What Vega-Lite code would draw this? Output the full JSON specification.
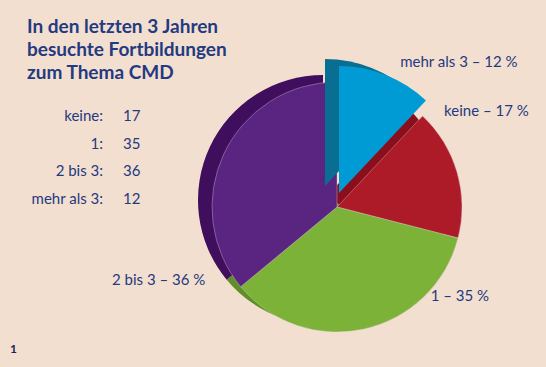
{
  "$schema": "https://vega.github.io/schema/vega-lite/v6.json",
  "width": 674,
  "height": 414,
  "autosize": {"type": "none"},
  "padding": 0,
  "background": "#f3dfd0",
  "config": {"view": {"stroke": null}, "font": "Lato"},
  "title": {
    "text": ["In den letzten 3 Jahren", "besuchte Fortbildungen", "zum Thema CMD"],
    "anchor": "start",
    "frame": "group",
    "orient": "top",
    "baseline": "top",
    "offset": 0,
    "dx": 27,
    "dy": 83,
    "fontSize": 19,
    "fontWeight": "bold",
    "font": "Lato",
    "color": "#233a80",
    "lineHeight": 23
  },
  "data": {
    "values": [
      {"ord": 1, "kategorie": "mehr als 3", "anzahl": 12, "tabelle": "mehr als 3:", "beschriftung": "mehr als 3 – 12 %"},
      {"ord": 2, "kategorie": "keine", "anzahl": 17, "tabelle": "keine:", "beschriftung": "keine – 17 %"},
      {"ord": 3, "kategorie": "1", "anzahl": 35, "tabelle": "1:", "beschriftung": "1 – 35 %"},
      {"ord": 4, "kategorie": "2 bis 3", "anzahl": 36, "tabelle": "2 bis 3:", "beschriftung": "2 bis 3 – 36 %"}
    ]
  },
  "layer": [
    {
      "mark": {"type": "arc", "radius": 125, "xOffset": -14, "yOffset": -7},
      "encoding": {
        "theta": {"field": "anzahl", "type": "quantitative", "stack": true, "scale": {"domain": [0, 100]}},
        "order": {"field": "ord", "type": "quantitative"},
        "fill": {"field": "kategorie", "type": "nominal", "legend": null,
          "scale": {"domain": ["mehr als 3", "keine", "1", "2 bis 3"], "range": ["#0a6e93", "#8a0e1c", "#5e8f28", "#3f0e5c"]}},
        "opacity": {"condition": {"test": "datum.kategorie === 'mehr als 3'", "value": 0}, "value": 1}
      }
    },
    {
      "mark": {"type": "arc", "radius": 125, "stroke": "#e9d3e6", "strokeWidth": 0.5, "strokeOpacity": 0.7},
      "encoding": {
        "theta": {"field": "anzahl", "type": "quantitative", "stack": true, "scale": {"domain": [0, 100]}},
        "order": {"field": "ord", "type": "quantitative"},
        "color": {"field": "kategorie", "type": "nominal", "legend": null,
          "scale": {"domain": ["mehr als 3", "keine", "1", "2 bis 3"], "range": ["#009bd5", "#ad1b29", "#7db239", "#5a2580"]}},
        "opacity": {"condition": {"test": "datum.kategorie === 'mehr als 3'", "value": 0}, "value": 1}
      }
    },
    {
      "mark": {"type": "arc", "radius": 127, "xOffset": -12, "yOffset": -21},
      "encoding": {
        "theta": {"field": "anzahl", "type": "quantitative", "stack": true, "scale": {"domain": [0, 100]}},
        "order": {"field": "ord", "type": "quantitative"},
        "fill": {"field": "kategorie", "type": "nominal", "legend": null},
        "opacity": {"condition": {"test": "datum.kategorie === 'mehr als 3'", "value": 1}, "value": 0}
      }
    },
    {
      "mark": {"type": "arc", "radius": 127, "xOffset": 2, "yOffset": -14},
      "encoding": {
        "theta": {"field": "anzahl", "type": "quantitative", "stack": true, "scale": {"domain": [0, 100]}},
        "order": {"field": "ord", "type": "quantitative"},
        "color": {"field": "kategorie", "type": "nominal", "legend": null},
        "opacity": {"condition": {"test": "datum.kategorie === 'mehr als 3'", "value": 1}, "value": 0}
      }
    },
    {
      "mark": {"type": "text", "radius": 150, "align": "left", "baseline": "middle", "dx": 8, "dy": -6, "fontSize": 15, "color": "#233a80"},
      "encoding": {
        "theta": {"field": "anzahl", "type": "quantitative", "stack": true, "scale": {"domain": [0, 100]}},
        "order": {"field": "ord", "type": "quantitative"},
        "text": {"condition": {"test": "datum.kategorie === 'mehr als 3'", "field": "beschriftung"}, "value": ""}
      }
    },
    {
      "mark": {"type": "text", "radius": 150, "align": "left", "baseline": "middle", "dx": -37, "dy": -54, "fontSize": 15, "color": "#233a80"},
      "encoding": {
        "theta": {"field": "anzahl", "type": "quantitative", "stack": true, "scale": {"domain": [0, 100]}},
        "order": {"field": "ord", "type": "quantitative"},
        "text": {"condition": {"test": "datum.kategorie === 'keine'", "field": "beschriftung"}, "value": ""}
      }
    },
    {
      "mark": {"type": "text", "radius": 150, "align": "left", "baseline": "middle", "dx": 61, "dy": -57, "fontSize": 15, "color": "#233a80"},
      "encoding": {
        "theta": {"field": "anzahl", "type": "quantitative", "stack": true, "scale": {"domain": [0, 100]}},
        "order": {"field": "ord", "type": "quantitative"},
        "text": {"condition": {"test": "datum.kategorie === '1'", "field": "beschriftung"}, "value": ""}
      }
    },
    {
      "mark": {"type": "text", "radius": 150, "align": "right", "baseline": "middle", "dx": 4, "dy": 137, "fontSize": 15, "color": "#233a80"},
      "encoding": {
        "theta": {"field": "anzahl", "type": "quantitative", "stack": true, "scale": {"domain": [0, 100]}},
        "order": {"field": "ord", "type": "quantitative"},
        "text": {"condition": {"test": "datum.kategorie === '2 bis 3'", "field": "beschriftung"}, "value": ""}
      }
    },
    {
      "mark": {"type": "text", "align": "right", "baseline": "middle", "dx": -234, "fontSize": 15, "color": "#233a80"},
      "encoding": {
        "y": {"field": "kategorie", "type": "ordinal", "sort": ["keine", "1", "2 bis 3", "mehr als 3"],
          "scale": {"type": "point", "range": [116, 199], "padding": 0}, "axis": null},
        "text": {"field": "tabelle"}
      }
    },
    {
      "mark": {"type": "text", "align": "left", "baseline": "middle", "dx": -214, "fontSize": 15, "color": "#233a80"},
      "encoding": {
        "y": {"field": "kategorie", "type": "ordinal", "sort": ["keine", "1", "2 bis 3", "mehr als 3"],
          "scale": {"type": "point", "range": [116, 199], "padding": 0}, "axis": null},
        "text": {"field": "anzahl", "type": "quantitative"}
      }
    },
    {
      "data": {"values": [{"seite": "1"}]},
      "mark": {"type": "text", "align": "left", "baseline": "middle", "dx": -327, "dy": 142, "fontSize": 12, "fontWeight": "bold", "color": "#1c2650"},
      "encoding": {
        "text": {"field": "seite"}
      }
    }
  ]
}
